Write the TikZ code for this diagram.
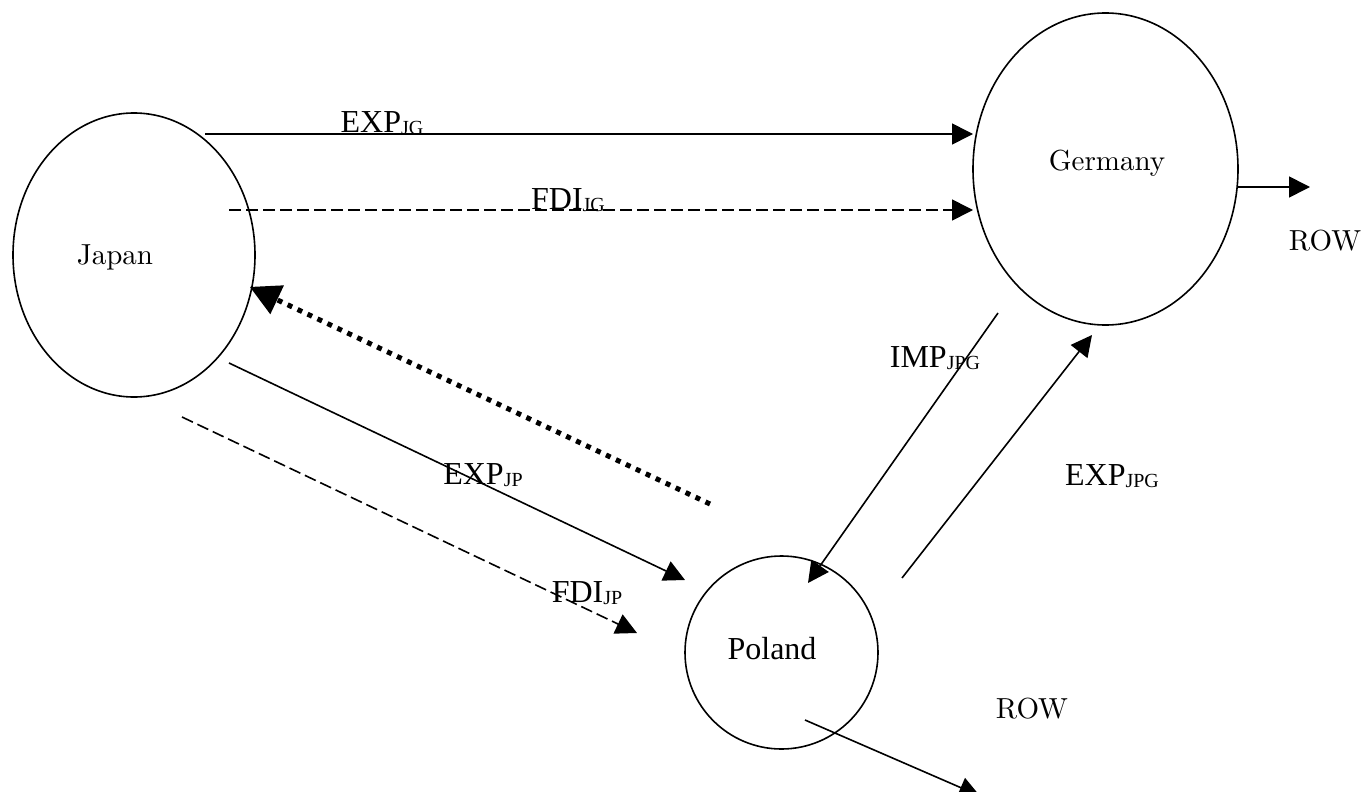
\documentclass[tikz,border=0pt]{standalone}
\usepackage{fontspec}
\newfontfamily\tnr{Liberation Serif}
\newfontfamily\gar{lmroman10-regular}[Extension=.otf]
\usetikzlibrary{arrows.meta,shapes.geometric}
\newcommand{\sbs}[1]{\raisebox{-2pt}{\fontsize{20}{20}\selectfont #1}}
\begin{document}
\begin{tikzpicture}[x=1pt,y=-1pt,
  country/.style={draw,ellipse,line width=1.6pt,inner sep=0pt},
  cname/.style={anchor=base,inner sep=0pt,font=\gar\fontsize{29}{35}\selectfont},
  tname/.style={anchor=base,inner sep=0pt,font=\tnr\fontsize{32}{38}\selectfont},
  flow/.style={line width=1.6pt,-{Triangle[length=21pt,width=21pt]}},
  fdi/.style={flow,dash pattern=on 12pt off 5pt},
  ret/.style={line width=5pt,dash pattern=on 5pt off 6pt,-{Triangle[length=30pt,width=32pt,line width=0pt]}}
]
\useasboundingbox (0,0) rectangle (1368,792);
% countries
\node[country,minimum width=242pt,minimum height=284pt] (japan) at (134,255) {};
\node[country,minimum width=265pt,minimum height=312pt] (germany) at (1105.5,169) {};
\node[country,circle,minimum size=193pt] (poland) at (781.5,652.5) {};
\node[cname] (jt) at (115,264) {Japan};
\node[cname] (gt) at (1107,170) {Germany};
\node[tname] (pt) at (772,659) {Poland};
\node[cname] (row1) at (1325,250) {ROW};
\node[cname] (row2) at (1032,718) {ROW};
% end points
\coordinate (e1s) at (205,134); \coordinate (e1e) at (973,134);
\coordinate (f1s) at (229,210); \coordinate (f1e) at (973,210);
\coordinate (ds) at (710,504);  \coordinate (de) at (250,287);
\coordinate (e2s) at (229,363); \coordinate (e2e) at (685,580);
\coordinate (f2s) at (182,417); \coordinate (f2e) at (637,633);
\coordinate (is) at (998,313);  \coordinate (ie) at (808,583);
\coordinate (xs) at (902,578);  \coordinate (xe) at (1092,335);
\coordinate (gr) at (1237,187); \coordinate (gre) at (1310,187);
\coordinate (pr) at (805,720);  \coordinate (pre) at (980,796);
% flows
\draw[flow] (e1s) -- (e1e);
\draw[fdi] (f1s) -- (f1e);
\draw[ret] (ds) -- (de);
\draw[flow] (e2s) -- (e2e);
\draw[fdi] (f2s) -- (f2e);
\draw[flow] (is) -- (ie);
\draw[flow] (xs) -- (xe);
\draw[flow] (gr) -- (gre);
\draw[flow] (pr) -- (pre);
% labels
\node[tname] (l1) at (382,132) {EXP\sbs{JG}};
\node[tname] (l2) at (568,209) {FDI\sbs{JG}};
\node[tname] (l3) at (483,484) {EXP\sbs{JP}};
\node[tname] (l4) at (587,602) {FDI\sbs{JP}};
\node[tname] (l5) at (935,367) {IMP\sbs{JPG}};
\node[tname] (l6) at (1112,485) {EXP\sbs{JPG}};
\end{tikzpicture}
\end{document}
